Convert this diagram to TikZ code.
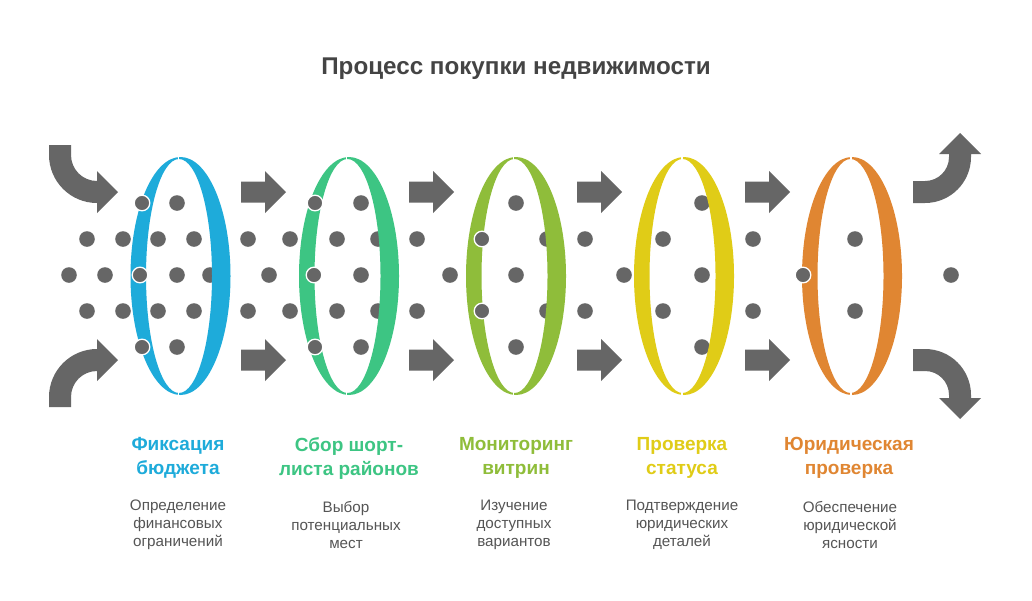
\documentclass[tikz,border=0pt]{standalone}
\usepackage{fontspec}
\setmainfont{Liberation Sans}
\definecolor{cblue}{HTML}{1EABDA}
\definecolor{cgreen}{HTML}{3DC583}
\definecolor{clime}{HTML}{8FBD3A}
\definecolor{cyellow}{HTML}{E0CC17}
\definecolor{corange}{HTML}{E08632}
\definecolor{cgray}{HTML}{666666}
\definecolor{ctext}{HTML}{555555}
\definecolor{ctitle}{HTML}{444444}
\tikzset{
  dotn/.style={fill=cgray},
  doto/.style={fill=cgray,draw=white,line width=1.3pt},
  arrowshape/.style={fill=cgray},
  headtxt/.style={font=\fontsize{19}{24}\selectfont\bfseries,align=center,inner sep=0pt},
  desctxt/.style={font=\fontsize{15.2}{18}\selectfont,text=ctext,align=center,inner sep=0pt},
}
\newcommand{\ringdraw}[3]{% cx, gap x, color
  \fill[#3,even odd rule] (#1,276) ellipse[x radius=50,y radius=119]
     (#1-1.5,276) ellipse[x radius=33,y radius=117];
  \draw[white,line width=1.6pt] (#2,150) -- (#2,164);
  \draw[white,line width=1.6pt] (#2,388) -- (#2,402);
}
\newcommand{\sarrow}[2]{% x0, yc
  \fill[arrowshape] (#1,#2-10.5) -- (#1+24,#2-10.5) -- (#1+24,#2-21) -- (#1+45,#2)
    -- (#1+24,#2+21) -- (#1+24,#2+10.5) -- (#1,#2+10.5) -- cycle;
}
\begin{document}
\begin{tikzpicture}[x=1pt,y=-1pt]
\useasboundingbox (0,0) rectangle (1032,600);
\fill[white] (0,0) rectangle (1032,600);

\node[font=\fontsize{24.2}{28}\selectfont\bfseries,text=ctitle] (title) at (516,68.5) {Процесс покупки недвижимости};

% plain dots (behind rings)
\foreach \x/\y in {87/239,123/239,158/239,194/239,87/311,123/311,158/311,194/311,
  69/275,105/275,177/275,210/275,177/203,177/347,
  248/239,290/239,248/311,290/311,269/275,
  361/203,337/239,378/239,337/311,378/311,361/275,450/275,361/347,417/239,417/311,
  516/203,547/239,585/239,516/275,624/275,547/311,585/311,516/347,
  702/203,663/239,753/239,702/275,663/311,753/311,702/347,
  855/239,855/311,951/275}
  \fill[dotn] (\x,\y) circle[radius=7.8];

% rings
\ringdraw{180.5}{178.5}{cblue}
\ringdraw{349}{346.5}{cgreen}
\ringdraw{516}{513.5}{clime}
\ringdraw{684}{682}{cyellow}
\ringdraw{852}{851}{corange}

% dots in front of rings
\foreach \x/\y in {142/203,140/275,142/347,315/203,314/275,315/347,482/239,482/311,803/275}
  \filldraw[doto] (\x,\y) circle[radius=7.8];

% straight arrows
\foreach \x in {241,409,577,745}{
  \sarrow{\x}{192}
  \sarrow{\x}{360}
}

% entry arrows
\fill[arrowshape] (49,145) -- (49,155) .. controls (49,181.5) and (70.5,203) .. (97,203)
  -- (97,213) -- (118,192) -- (97,171) -- (97,181)
  .. controls (82.6,181) and (71,169.4) .. (71,155) -- (71,145) -- cycle;
\fill[arrowshape] (49,407) -- (49,397) .. controls (49,370.5) and (70.5,349) .. (97,349)
  -- (97,339) -- (118,360) -- (97,381) -- (97,371)
  .. controls (82.6,371) and (71,382.6) .. (71,397) -- (71,407) -- cycle;

% exit arrows
\fill[arrowshape] (913,203) -- (925,203) .. controls (950.4,203) and (971,182.4) .. (971,157)
  -- (971,154) -- (981,154) -- (960,133) -- (939,154) -- (949,154) -- (949,157)
  .. controls (949,170.3) and (938.3,181) .. (925,181) -- (913,181) -- cycle;
\fill[arrowshape] (913,349) -- (925,349) .. controls (950.4,349) and (971,369.6) .. (971,395)
  -- (971,398) -- (981,398) -- (960,419) -- (939,398) -- (949,398) -- (949,395)
  .. controls (949,381.7) and (938.3,371) .. (925,371) -- (913,371) -- cycle;

% labels
\node[headtxt,text=cblue] (h1) at (178,458) {Фиксация\\бюджета};
\node[headtxt,text=cgreen] (h2) at (349,458) {Сбор шорт-\\листа районов};
\node[headtxt,text=clime] (h3) at (516,458) {Мониторинг\\витрин};
\node[headtxt,text=cyellow] (h4) at (682,458) {Проверка\\статуса};
\node[headtxt,text=corange] (h5) at (849,458) {Юридическая\\проверка};

\node[desctxt] (d1) at (178,525) {Определение\\финансовых\\ограничений};
\node[desctxt] (d2) at (346,525) {Выбор\\потенциальных\\мест};
\node[desctxt] (d3) at (514,525) {Изучение\\доступных\\вариантов};
\node[desctxt] (d4) at (682,525) {Подтверждение\\юридических\\деталей};
\node[desctxt] (d5) at (850,525) {Обеспечение\\юридической\\ясности};
\end{tikzpicture}
\end{document}
